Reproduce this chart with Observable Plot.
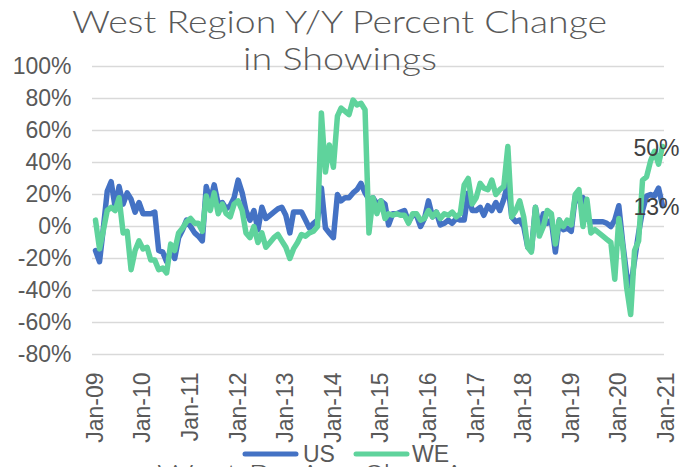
<!DOCTYPE html>
<html>
<head>
<meta charset="utf-8">
<script src="https://cdn.jsdelivr.net/npm/d3@7"></script>
<script src="https://cdn.jsdelivr.net/npm/@observablehq/plot@0.6"></script>
<style>
  html, body { margin: 0; padding: 0; background: #fff; }
  #wrap { position: relative; width: 686px; height: 467px; overflow: hidden; background: #fff; }
  #wrap svg { position: absolute; left: 0; top: 0; }
</style>
</head>
<body>
<div id="wrap"></div>
<script>
// ---- data (monthly, Jan-2009 .. Dec-2020) ----
const startMonth = "2009-01-01";
const seriesNames = ["US", "WE"];
const seriesColors = ["#4472C4", "#5FD39C"];

const US = [
  -15, -22, -2, 22, 28, 12, 25, 14, 21, 17, 9, 15,        // 2009
  8, 8, 8, 9, -15, -16, -22, -15, -20, -7, -2, 4,          // 2010
  0, -4, -6, -9, 25, 16, 26, 14, 15, 11, 13, 18,           // 2011
  29, 21, 10, 4, 10, -2, 12, 5, 7, 9, 11, 12,              // 2012
  7, -4, 9, 9, 9, 4, -1, 2, 4, 24, -1, -4,                 // 2013
  -7, 20, 16, 18, 18, 21, 23, 27, 21, 17, 18, 14,          // 2014
  16, 14, 1, 8, 8, 9, 10, 3, 7, 7, 0, 5,                   // 2015
  16, 6, 9, 1, 2, 4, 2, 5, 4, 4, 21, 10,                   // 2016
  10, 12, 7, 13, 10, 15, 10, 17, 27, 6, 3, 4,              // 2017
  0, -13, -15, 12, -2, 8, 2, 4, -16, 4, -2, -1,            // 2018
  -3, 19, 16, 18, 5, 3, 3, 3, 3, 2, 0, 4,                  // 2019
  13, -11, -30, -38, -21, -4, 10, 19, 20, 19, 24, 13       // 2020
];

const WE = [
  4, -14, -3, 10, 12, 10, 18, -4, -3, -27, -15, -9,        // 2009
  -14, -13, -21, -21, -27, -26, -29, -11, -15, -4, -1, 3,  // 2010
  5, 2, 2, -3, 19, 10, 21, 8, 14, 8, 6, 14,                // 2011
  16, 10, -4, -7, 0, -10, -4, -13, -10, -7, -5, -9,        // 2012
  -13, -20, -14, -10, -5, -6, -4, -3, 0, 71, 34, 51,       // 2013
  37, 69, 74, 72, 70, 79, 76, 77, 73, -4, 18, 8,           // 2014
  16, 5, 8, 7, 8, 7, 7, 2, 8, 8, 4, 5,                     // 2015
  10, 6, 9, 5, 8, 7, 9, 6, 8, 26, 30, 14,                  // 2016
  18, 27, 24, 23, 29, 20, 23, 25, 50, 6, 10, 16,           // 2017
  6, -13, -16, 12, -6, 0, 10, 8, -11, 4, 0, 4,             // 2018
  1, 20, 23, 0, 17, -4, -2, -4, -6, -8, -10, -33,          // 2019
  5, -13, -38, -55, -15, -9, 29, 31, 41, 47, 39, 50        // 2020
];

const yTicks = [-80, -60, -40, -20, 0, 20, 40, 60, 80, 100];
const xTickYears = [2009, 2010, 2011, 2012, 2013, 2014, 2015, 2016, 2017, 2018, 2019, 2020, 2021];

const titleLines = ["West Region Y/Y Percent Change", "in Showings"];
const bottomTitle = "West Region Showings";

// ---- build table ----
const start = new Date(startMonth + "T00:00:00Z");
const months = d3.utcMonth.range(start, d3.utcMonth.offset(start, US.length));
const rows = [];
[US, WE].forEach((arr, k) => arr.forEach((v, i) => rows.push({date: months[i], value: v, series: seriesNames[k]})));
const lastIdx = US.length - 1;
const endLabels = [
  {date: months[lastIdx], value: WE[lastIdx], text: WE[lastIdx] + "%"},
  {date: months[lastIdx], value: US[lastIdx], text: US[lastIdx] + "%"}
];
const xTicks = xTickYears.map(y => new Date(Date.UTC(y, 0, 1)));

const fmt = d3.utcFormat("%b-%y");

const chart = Plot.plot({
  width: 686,
  height: 467,
  marginLeft: 92,
  marginRight: 22,
  marginTop: 66,
  marginBottom: 113,
  style: {fontFamily: "'Liberation Sans', Arial, sans-serif", fontSize: "23px", color: "#595959", background: "transparent"},
  x: {type: "utc", domain: [xTicks[0], xTicks[xTicks.length - 1]], range: [95, 666], label: null},
  y: {domain: [-80, 100], range: [354, 66], label: null},
  color: {domain: seriesNames, range: seriesColors},
  marks: [
    Plot.ruleY(yTicks, {stroke: "#D9D9D9", strokeWidth: 1.6}),
    Plot.axisY({ticks: yTicks, tickFormat: d => d + "%", tickSize: 0, tickPadding: 21, fontSize: 23, fill: "#595959"}),
    Plot.axisX({ticks: xTicks, tickFormat: fmt, tickRotate: -90, tickSize: 0, tickPadding: 18, fontSize: 23, fill: "#595959"}),
    Plot.line(rows, {x: "date", y: "value", z: "series", stroke: "series", strokeWidth: 5.5, strokeLinejoin: "round", strokeLinecap: "round"}),
    Plot.text(endLabels, {x: "date", y: "value", text: "text", dx: -6, dy: 2, textAnchor: "middle", fontSize: 23, fill: "#404040"})
  ]
});

const wrap = document.getElementById("wrap");
wrap.appendChild(chart);

// ---- overlay: title, legend, bottom title ----
const ns = "http://www.w3.org/2000/svg";
const ov = document.createElementNS(ns, "svg");
ov.setAttribute("width", 686);
ov.setAttribute("height", 467);
wrap.appendChild(ov);

function addText(str, x, y, opts) {
  const t = document.createElementNS(ns, "text");
  t.textContent = str;
  t.setAttribute("x", x);
  t.setAttribute("y", y);
  for (const k in opts) t.setAttribute(k, opts[k]);
  ov.appendChild(t);
  return t;
}
const titleFont = {"font-family": "Lato, 'Open Sans', sans-serif", "font-weight": 300, "font-size": 31, "fill": "#595959"};
addText(titleLines[0], 72, 33, Object.assign({textLength: 535, lengthAdjust: "spacingAndGlyphs"}, titleFont));
addText(titleLines[1], 243, 70, Object.assign({textLength: 194, lengthAdjust: "spacingAndGlyphs"}, titleFont));
addText(bottomTitle, 157, 487, Object.assign({textLength: 355, lengthAdjust: "spacingAndGlyphs"}, titleFont));

// legend
const legendItems = [
  {name: seriesNames[0], color: seriesColors[0], x1: 245, x2: 296, tx: 303},
  {name: seriesNames[1], color: seriesColors[1], x1: 356, x2: 407, tx: 412}
];
legendItems.forEach(it => {
  const l = document.createElementNS(ns, "line");
  l.setAttribute("x1", it.x1); l.setAttribute("x2", it.x2);
  l.setAttribute("y1", 454); l.setAttribute("y2", 454);
  l.setAttribute("stroke", it.color); l.setAttribute("stroke-width", 5);
  l.setAttribute("stroke-linecap", "round");
  ov.appendChild(l);
  addText(it.name, it.tx, 462, {"font-family": "'Liberation Sans', Arial, sans-serif", "font-size": 23, "fill": "#595959"});
});
</script>
</body>
</html>
